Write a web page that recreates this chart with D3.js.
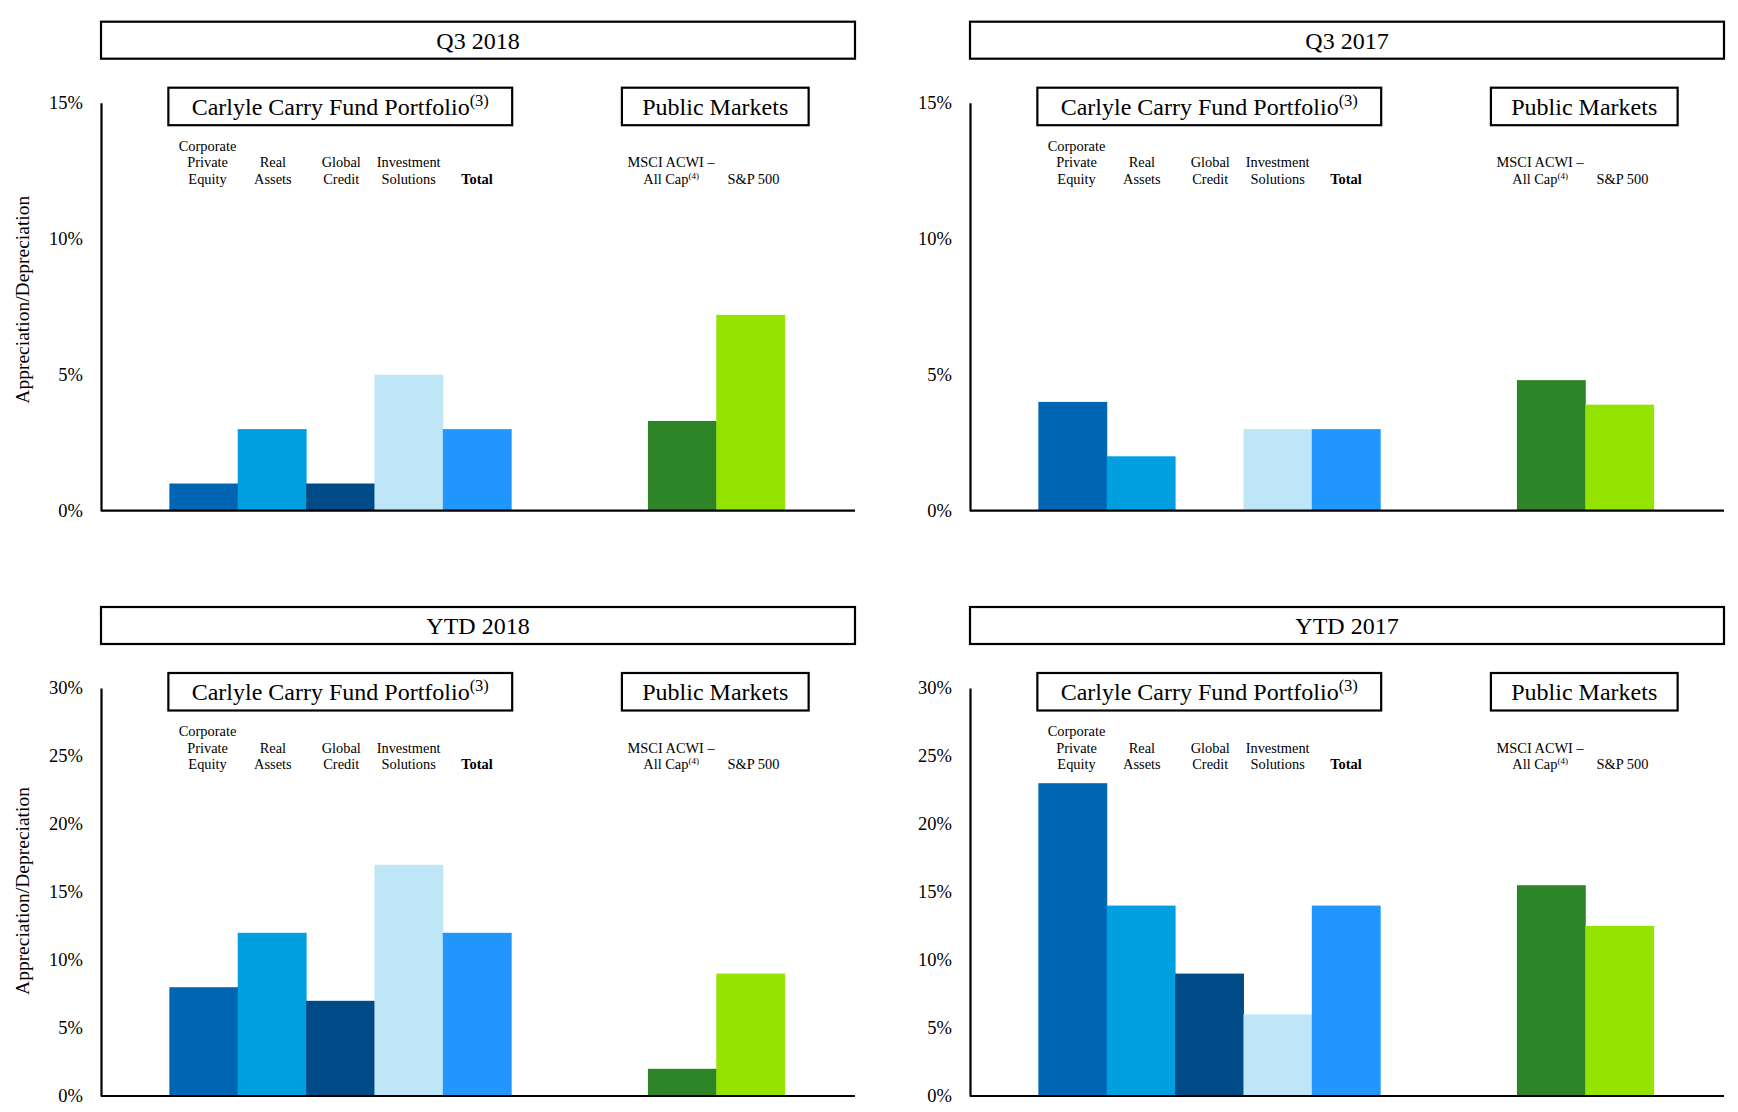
<!DOCTYPE html>
<html>
<head>
<meta charset="utf-8">
<script src="https://cdn.jsdelivr.net/npm/d3@7"></script>
<style>
  body { margin: 0; background: #fff; }
  text { font-family: "Liberation Serif", "Times New Roman", serif; fill: #000; }
</style>
</head>
<body>
<main></main>
<script>
const width = 1738;
const height = 1112;

// data
const panelTitles = ["Q3 2018", "Q3 2017", "YTD 2018", "YTD 2017"];
const carlyleCategories = ["Corporate Private Equity", "Real Assets", "Global Credit", "Investment Solutions", "Total"];
const publicCategories = ["MSCI ACWI – All Cap", "S&P 500"];
const carlyleLabels = [["Corporate", "Private", "Equity"], ["Real", "Assets"], ["Global", "Credit"], ["Investment", "Solutions"], ["Total"]];
const publicLabels = [["MSCI ACWI –", "All Cap"], ["S&P 500"]];
const q3_2018 = [1, 3, 1, 5, 3, 3.3, 7.2];
const q3_2017 = [4, 2, 0, 3, 3, 4.8, 3.9];
const ytd_2018 = [8, 12, 7, 17, 12, 2, 9];
const ytd_2017 = [23, 14, 9, 6, 14, 15.5, 12.5];
const quarterTicks = [0, 5, 10, 15];
const ytdTicks = [0, 5, 10, 15, 20, 25, 30];
const barColors = ["#0066b3", "#009fe0", "#004b87", "#bee6f7", "#2196fd", "#2e8527", "#95e300"];

const serif = '"Liberation Serif", "Times New Roman", serif';
const plotW = 754;
const plotH = 408;

const panels = [
    {title: panelTitles[0], values: q3_2018, ticks: quarterTicks, x: 101, y: 102.7, yLabel: true, yLabelShift: -7},
    {title: panelTitles[1], values: q3_2017, ticks: quarterTicks, x: 970, y: 102.7, yLabel: false},
    {title: panelTitles[2], values: ytd_2018, ticks: ytdTicks, x: 101, y: 688, yLabel: true, yLabelShift: -1},
    {title: panelTitles[3], values: ytd_2017, ticks: ytdTicks, x: 970, y: 688, yLabel: false}
];

const allCategories = carlyleCategories.concat(publicCategories);
const allLabels = carlyleLabels.concat(publicLabels);
// empty slots around the two groups, as on the slide
const slots = ["gapA"].concat(carlyleCategories, ["gapB", "gapC"], publicCategories, ["gapD"]);

const svg = d3.select("main")
              .append("svg")
              .attr("width", width)
              .attr("height", height);

const xScale = d3.scaleBand()
                 .domain(slots)
                 .range([0, plotW - 2])
                 .padding(0);

const drawBox = (g, x, y, w, h, label, sup, supSize) => {
    g.append("rect")
     .attr("x", x).attr("y", y)
     .attr("width", w).attr("height", h)
     .attr("fill", "none")
     .attr("stroke", "#000")
     .attr("stroke-width", 2.2);
    const t = g.append("text")
               .attr("x", x + w / 2)
               .attr("y", y + h / 2 + 8.5)
               .attr("text-anchor", "middle")
               .style("font-size", "24px")
               .text(label);
    if (sup) {
        t.append("tspan")
         .attr("dy", -9)
         .style("font-size", supSize + "px")
         .text(sup);
    }
};

const drawPanel = (p) => {
    const g = svg.append("g").attr("transform", `translate(${p.x}, ${p.y})`);
    const yMax = d3.max(p.ticks);
    const yScale = d3.scaleLinear().domain([0, yMax]).range([plotH, 0]);

    // header box
    drawBox(g, 0, -81, plotW, 37, p.title);

    // bars
    g.selectAll("rect.bar")
     .data(p.values)
     .enter()
     .append("rect")
     .attr("class", "bar")
     .attr("x", (d, i) => xScale(allCategories[i]))
     .attr("y", (d) => yScale(d))
     .attr("width", xScale.bandwidth() + 0.5)
     .attr("height", (d) => yScale(0) - yScale(d))
     .attr("fill", (d, i) => barColors[i]);

    // y axis
    const yAxis = g.append("g")
                   .call(d3.axisLeft(yScale)
                           .tickValues(p.ticks)
                           .tickSize(0)
                           .tickSizeOuter(0)
                           .tickPadding(18)
                           .tickFormat((d) => d + "%"));
    yAxis.select(".domain").attr("stroke", "#000").attr("stroke-width", 2.2);
    yAxis.selectAll("text")
         .style("font-family", serif)
         .style("font-size", "18.5px")
         .attr("dy", "0.3em");

    // baseline
    g.append("line")
     .attr("x1", 0).attr("x2", plotW)
     .attr("y1", yScale(0)).attr("y2", yScale(0))
     .attr("stroke", "#000")
     .attr("stroke-width", 2.2);

    if (p.yLabel) {
        g.append("text")
         .attr("transform", `translate(${22 - p.x}, ${plotH / 2 + p.yLabelShift}) rotate(-90)`)
         .attr("text-anchor", "middle")
         .attr("dy", "0.35em")
         .style("font-size", "19.5px")
         .text("Appreciation/Depreciation");
    }

    // group boxes
    const cStart = xScale(carlyleCategories[0]);
    const cEnd = xScale(carlyleCategories[carlyleCategories.length - 1]) + xScale.bandwidth();
    drawBox(g, cStart - 1, -15, cEnd - cStart + 2, 37.5, "Carlyle Carry Fund Portfolio", "(3)", 16.5);
    const pStart = xScale(publicCategories[0]);
    const pEnd = xScale(publicCategories[publicCategories.length - 1]) + xScale.bandwidth();
    drawBox(g, pStart - 26, -15, pEnd - pStart + 50, 37.5, "Public Markets");

    // category labels, bottom aligned
    const lineGap = 16.5;
    const lastBaseline = 81;
    const nudge = [4, 1, 1, 0, 0, -11, 3];
    allLabels.forEach((lines, i) => {
        const cx = xScale(allCategories[i]) + xScale.bandwidth() / 2 + nudge[i];
        lines.forEach((line, j) => {
            const t = g.append("text")
                       .attr("x", cx)
                       .attr("y", lastBaseline - (lines.length - 1 - j) * lineGap)
                       .attr("text-anchor", "middle")
                       .style("font-size", "14.4px")
                       .style("font-weight", allCategories[i] === "Total" ? "bold" : "normal")
                       .text(line);
            if (line === "All Cap") {
                t.append("tspan")
                 .attr("dy", -5)
                 .style("font-size", "9px")
                 .text("(4)");
            }
        });
    });
};

panels.forEach(drawPanel);
</script>
</body>
</html>
